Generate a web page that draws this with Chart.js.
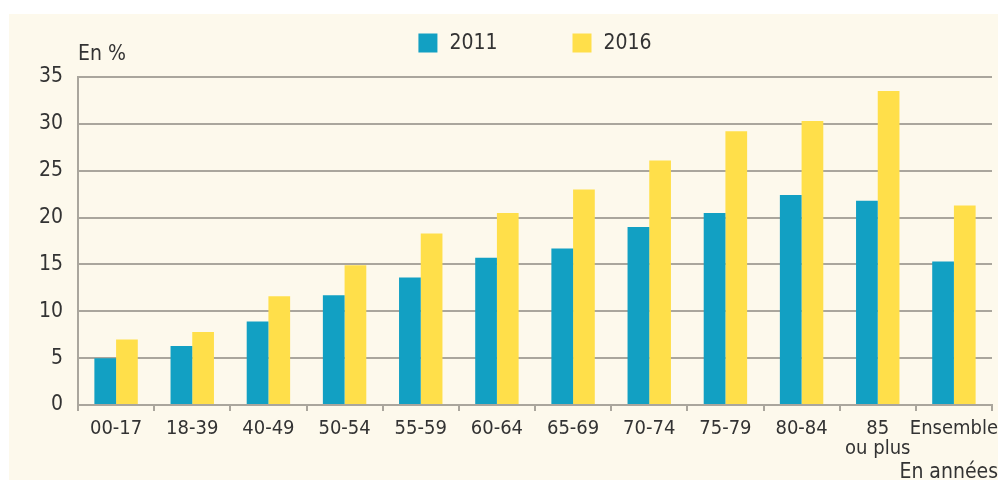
<!DOCTYPE html>
<html>
<head>
<meta charset="utf-8">
<script src="https://cdn.jsdelivr.net/npm/chart.js@4.4.1/dist/chart.umd.min.js"></script>
<style>
  html, body { margin: 0; padding: 0; background: #ffffff; }
  #wrap { width: 998px; height: 480px; position: relative; }
</style>
</head>
<body>
<div id="wrap"><canvas id="chart"></canvas></div>
<script>
// Age groups (x axis)
const ageGroups = ['00-17', '18-39', '40-49', '50-54', '55-59', '60-64', '65-69',
  '70-74', '75-79', '80-84', ['85', 'ou plus'], 'Ensemble'];

// Share in % per year
const values2011 = [5.0, 6.3, 8.9, 11.7, 13.6, 15.7, 16.7, 19.0, 20.5, 22.4, 21.8, 15.3];
const values2016 = [7.0, 7.8, 11.6, 14.9, 18.3, 20.5, 23.0, 26.1, 29.2, 30.3, 33.5, 21.3];

// Y axis
const yMin = 0, yMax = 35, yStep = 5;

const FONT = '"DejaVu Sans Condensed", "Liberation Sans", sans-serif';
const FONT_SIZE = 21;
const textColor = '#333333';
const gridColor = '#aaa69d';
const bgColor = '#fdf9ec';

// Cream panel behind everything + extra texts
const panelPlugin = {
    id: 'panel',
    beforeDraw(chart) {
        const ctx = chart.ctx;
        ctx.save();
        ctx.fillStyle = bgColor;
        ctx.fillRect(9, 14, chart.width - 9, chart.height - 14);
        ctx.restore();
    },
    afterDraw(chart) {
        const ctx = chart.ctx;
        const area = chart.chartArea;
        ctx.save();
        ctx.fillStyle = textColor;
        ctx.font = FONT_SIZE + 'px ' + FONT;
        ctx.textBaseline = 'middle';
        ctx.textAlign = 'left';
        ctx.fillText('En %', area.left, 55);
        ctx.textAlign = 'right';
        ctx.fillText('En années', chart.width, 473);

        // Legend
        const box = 19, gapText = 12, gapItem = 75;
        const items = chart.data.datasets.map(ds => ({
            label: ds.label,
            color: ds.backgroundColor,
            w: box + gapText + ctx.measureText(ds.label).width
        }));
        const total = items.reduce((s, it) => s + it.w, 0) + gapItem * (items.length - 1);
        let x = (area.left + area.right) / 2 - total / 2;
        const cy = 43;
        ctx.textAlign = 'left';
        items.forEach(it => {
            ctx.fillStyle = it.color;
            ctx.fillRect(x, cy - box / 2, box, box);
            ctx.fillStyle = textColor;
            ctx.fillText(it.label, x + box + gapText, cy + 1);
            x += it.w + gapItem;
        });
        ctx.restore();
    }
};

new Chart(document.getElementById('chart'), {
    type: 'bar',
    data: {
        labels: ageGroups,
        datasets: [
            {
                label: '2011',
                data: values2011,
                backgroundColor: '#12a0c3',
                borderWidth: 0
            },
            {
                label: '2016',
                data: values2016,
                backgroundColor: '#ffdf4a',
                borderWidth: 0
            }
        ]
    },
    options: {
        responsive: true,
        maintainAspectRatio: false,
        animation: false,
        categoryPercentage: 0.57,
        barPercentage: 1.0,
        layout: { padding: { top: 77, left: 0, right: 6, bottom: 0 } },
        plugins: {
            legend: { display: false },
            tooltip: { enabled: false }
        },
        scales: {
            x: {
                offset: true,
                grid: {
                    offset: true,
                    drawOnChartArea: false,
                    drawTicks: true,
                    tickLength: 6,
                    color: gridColor,
                    lineWidth: 2
                },
                border: { color: gridColor, width: 2 },
                ticks: {
                    color: textColor,
                    padding: 8,
                    maxRotation: 0,
                    autoSkip: false,
                    font: { family: FONT, size: 20, lineHeight: 1.0 }
                },
                afterFit(scale) {
                    scale.height = 75;
                    scale.paddingLeft = 0;
                    scale.paddingRight = 0;
                }
            },
            y: {
                min: yMin,
                max: yMax,
                grid: {
                    drawTicks: false,
                    color: gridColor,
                    lineWidth: 2
                },
                border: { color: gridColor, width: 2 },
                ticks: {
                    stepSize: yStep,
                    color: textColor,
                    padding: 15,
                    font: { family: FONT, size: FONT_SIZE }
                },
                afterFit(scale) {
                    scale.width = 78;
                }
            }
        }
    },
    plugins: [panelPlugin]
});
</script>
</body>
</html>
